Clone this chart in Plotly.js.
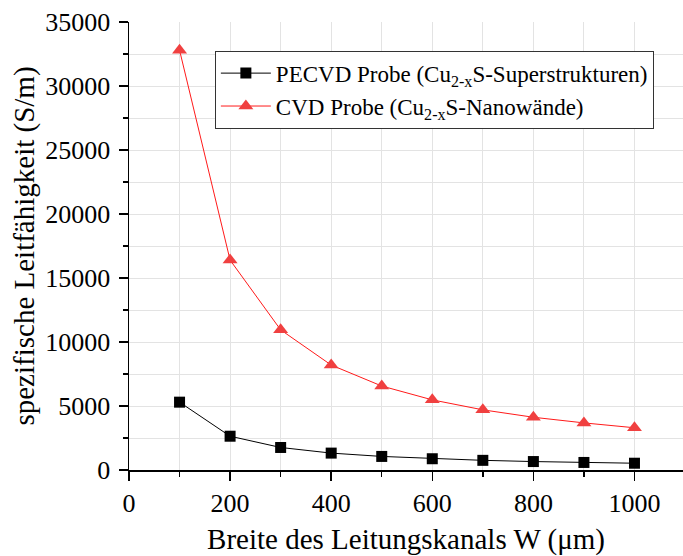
<!DOCTYPE html>
<html>
<head>
<meta charset="utf-8">
<script src="https://cdn.plot.ly/plotly-3.0.1.min.js"></script>
<style>
  html, body { margin: 0; padding: 0; background: #ffffff; }
  #chart { width: 683px; height: 556px; }
</style>
</head>
<body>
<div id="chart"></div>
<script>
// Channel width W in µm
const widths = [100, 200, 300, 400, 500, 600, 700, 800, 900, 1000];

// Specific conductivity in S/m
const pecvdConductivity = [5300, 2640, 1760, 1320, 1060, 880, 755, 660, 590, 530];
const cvdConductivity = [32800, 16400, 10950, 8200, 6560, 5480, 4700, 4120, 3680, 3300];

const seriesNames = [
  'PECVD Probe (Cu<sub>2-x</sub>S-Superstrukturen)',
  'CVD Probe (Cu<sub>2-x</sub>S-Nanowände)'
];

const xTitle = 'Breite des Leitungskanals W (μm)';
const yTitle = 'spezifische Leitfähigkeit (S/m)';

const serif = 'Liberation Serif, Times New Roman, serif';
const gridColor = '#e3e3e3';

const traces = [
  {
    x: widths,
    y: pecvdConductivity,
    name: seriesNames[0],
    type: 'scatter',
    mode: 'lines+markers',
    line: { color: '#000000', width: 1 },
    marker: { symbol: 'square', size: 11, color: '#000000' }
  },
  {
    x: widths,
    y: cvdConductivity,
    name: seriesNames[1],
    type: 'scatter',
    mode: 'lines+markers',
    line: { color: '#ff1a1a', width: 1 },
    marker: { symbol: 'triangle-up', size: 13, color: '#f04040' }
  }
];

const layout = {
  width: 683,
  height: 556,
  margin: { l: 129, r: 0, t: 22, b: 86 },
  paper_bgcolor: '#ffffff',
  plot_bgcolor: '#ffffff',
  font: { family: serif, color: '#000000', size: 26 },
  showlegend: true,
  legend: {
    x: 0.155,
    y: 0.936,
    xanchor: 'left',
    yanchor: 'top',
    bgcolor: '#ffffff',
    bordercolor: '#333333',
    borderwidth: 1,
    font: { family: serif, size: 23, color: '#000000' },
    itemwidth: 50,
    tracegroupgap: 0
  },
  xaxis: {
    range: [0, 1096],
    tick0: 0,
    dtick: 200,
    tickformat: 'd',
    ticks: 'outside',
    ticklen: 9,
    tickwidth: 1.5,
    tickcolor: '#000000',
    showline: true,
    linecolor: '#000000',
    linewidth: 1.5,
    mirror: false,
    zeroline: false,
    showgrid: true,
    gridcolor: gridColor,
    gridwidth: 1,
    tickfont: { family: serif, size: 26 },
    minor: {
      dtick: 100,
      ticks: 'outside',
      ticklen: 5,
      tickwidth: 1.5,
      tickcolor: '#000000',
      showgrid: true,
      gridcolor: gridColor,
      gridwidth: 1
    },
    title: { text: xTitle, font: { family: serif, size: 29 }, standoff: 12 }
  },
  yaxis: {
    range: [0, 35000],
    tick0: 0,
    dtick: 5000,
    tickformat: 'd',
    ticks: 'outside',
    ticklen: 9,
    tickwidth: 1.5,
    tickcolor: '#000000',
    ticklabelstandoff: 3,
    showline: true,
    linecolor: '#000000',
    linewidth: 1.5,
    mirror: false,
    zeroline: false,
    showgrid: true,
    gridcolor: gridColor,
    gridwidth: 1,
    tickfont: { family: serif, size: 26 },
    minor: {
      dtick: 2500,
      ticks: 'outside',
      ticklen: 5,
      tickwidth: 1.5,
      tickcolor: '#000000',
      showgrid: true,
      gridcolor: gridColor,
      gridwidth: 1
    },
    title: { text: yTitle, font: { family: serif, size: 29 }, standoff: 2 }
  },
  // Frame axes on the top and right with their own tick spacing
  xaxis2: {
    overlaying: 'x',
    side: 'top',
    anchor: 'y',
    range: [0, 4.984],
    tick0: 0,
    dtick: 1,
    ticks: 'inside',
    ticklen: 8,
    tickwidth: 1.5,
    tickcolor: '#000000',
    showticklabels: false,
    showline: true,
    linecolor: '#000000',
    linewidth: 1.5,
    showgrid: false,
    zeroline: false,
    minor: { dtick: 0.5, ticks: 'inside', ticklen: 4, tickwidth: 1.5, tickcolor: '#000000', showgrid: false }
  },
  yaxis2: {
    overlaying: 'y',
    side: 'right',
    anchor: 'x',
    range: [0, 5],
    tick0: 0,
    dtick: 1,
    ticks: 'inside',
    ticklen: 7,
    tickwidth: 1.5,
    tickcolor: '#000000',
    showticklabels: false,
    showline: false,
    showgrid: false,
    zeroline: false,
    minor: { dtick: 0.5, ticks: 'inside', ticklen: 4, tickwidth: 1.5, tickcolor: '#000000', showgrid: false }
  }
};

Plotly.newPlot('chart', traces, layout, { staticPlot: true, displayModeBar: false });
</script>
</body>
</html>
